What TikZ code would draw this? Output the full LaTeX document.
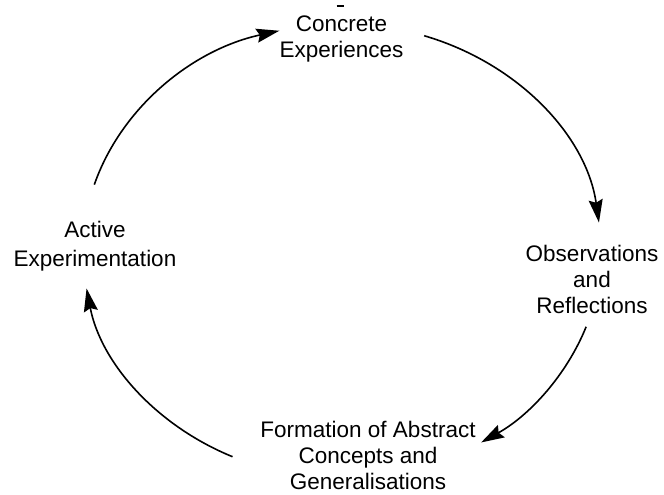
\documentclass[tikz,border=0pt]{standalone}
\usepackage{fontspec}
\setmainfont{Liberation Sans}
\usetikzlibrary{arrows.meta,calc}
\begin{document}
\begin{tikzpicture}[x=1pt,y=1pt,
  % base anchor sits on the last line of each stage label
  stagetext/.style={anchor=base, inner sep=0pt, align=center,
    font=\fontsize{22.5}{26}\selectfont},
  loopline/.style={line width=1.6pt,
    -{Stealth[length=23pt,width=14pt,inset=3pt]}},
]
% page and frame
\fill[white] (0,0) rectangle (664,495);
\useasboundingbox (0,0) rectangle (664,495);

% centre of the learning cycle
\coordinate (O) at (342,244);

% the four stages
\node[stagetext] (ce) at (341.5,437.5) {Concrete\\Experiences};
\node[stagetext] (or) at (592,181.7) {Observations\\and\\Reflections};
\node[stagetext] (fa) at (368,5.5) {Formation of Abstract\\Concepts and\\Generalisations};
\node[stagetext, font=\fontsize{22.5}{29}\selectfont] (ae) at (95,228.5) {Active\\Experimentation};

% small mark above the first stage
\draw[line width=1.6pt] (336.5,489) -- (343.5,489);

% arc end points on the cycle
\coordinate (a1s) at ($(O)+(163:259pt and 227pt)$);
\coordinate (a2s) at ($(O)+(71.5:259pt and 227pt)$);
\coordinate (a3s) at ($(O)+(-19.5:259pt and 227pt)$);
\coordinate (a4s) at ($(O)+(245:259pt and 227pt)$);

% the cycle, clockwise
\draw[loopline] (a1s) arc[start angle=163, end angle=104, x radius=259pt, y radius=227pt];
\draw[loopline] (a2s) arc[start angle=71.5, end angle=7.2, x radius=259pt, y radius=227pt];
\draw[loopline] (a3s) arc[start angle=-19.5, end angle=-57.5, x radius=259pt, y radius=227pt];
\draw[loopline] (a4s) arc[start angle=245, end angle=189.5, x radius=259pt, y radius=227pt];
\end{tikzpicture}
\end{document}
